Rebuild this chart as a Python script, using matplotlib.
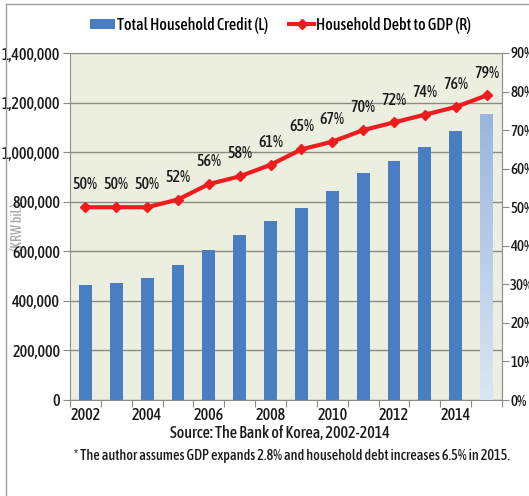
import matplotlib.pyplot as plt
import numpy as np
from matplotlib.colors import LinearSegmentedColormap
from matplotlib.lines import Line2D
from matplotlib.patches import Patch
from matplotlib.ticker import FuncFormatter, MultipleLocator

plt.rcParams['font.family'] = ['Asap Condensed', 'DejaVu Sans']
plt.rcParams['font.weight'] = 500

years = list(range(2002, 2016))
# household credit, KRW bil. (2015 is a projection)
credit = [464700, 472100, 494200, 542900, 607000, 665300, 723500,
          776000, 843200, 916200, 963800, 1021400, 1085300, 1155800]
# household debt to GDP, %
debt_gdp = [50, 50, 50, 52, 56, 58, 61, 65, 67, 70, 72, 74, 76, 79]
tick_years = [2002, 2004, 2006, 2008, 2010, 2012, 2014]

bar_color = '#4a7ec2'
line_color = '#ee1c1c'
grid_color = '#8c8c84'
text_color = '#1a1a1a'
fs = 11.5

fig = plt.figure(figsize=(5.29, 4.96), dpi=100)
ax = fig.add_axes([70/529, 1 - 400/496, 432/529, 347/496])
ax.set_facecolor('#eceedf')

x = np.arange(len(years))
bars = ax.bar(x[:-1], credit[:-1], width=0.42, color=bar_color, zorder=3)
proj = ax.bar(x[-1:], credit[-1:], width=0.42, color='#b9cdea', zorder=3)

# vertical gradient on the projected bar
grad = np.linspace(0, 1, 256).reshape(-1, 1)
cmap = LinearSegmentedColormap.from_list('proj', ['#dce6f3', '#98b5e0'])
p = proj[0]
img = ax.imshow(grad, cmap=cmap, origin='lower', aspect='auto', zorder=3.5,
                extent=[p.get_x(), p.get_x() + p.get_width(), 0, p.get_height()])
img.set_clip_path(p)

ax.set_xlim(-0.5, len(years) - 0.5)
ax.set_ylim(0, 1400000)
ax.yaxis.set_major_locator(MultipleLocator(200000))
ax.yaxis.set_major_formatter(FuncFormatter(lambda v, _: f'{int(v):,}'))
ax.grid(axis='y', color=grid_color, lw=1, zorder=1)
ax.set_axisbelow(True)

ax.set_xticks(np.arange(len(years) + 1) - 0.5)
ax.set_xticklabels([])
ax.set_xticks([years.index(y) for y in tick_years], minor=True)
ax.set_xticklabels([str(y) for y in tick_years], minor=True)
ax.tick_params(axis='x', which='major', length=5, color=grid_color)
ax.tick_params(axis='x', which='minor', length=0, pad=5, labelsize=fs, labelcolor=text_color)
ax.tick_params(axis='y', length=5, color=grid_color, labelsize=fs, labelcolor=text_color, pad=2)

for s in ['left', 'bottom', 'right']:
    ax.spines[s].set_color(grid_color)
ax.spines['top'].set_visible(False)

ax.text(-0.122, 0.5, '(KRW bil.)', transform=ax.transAxes, rotation=90,
        ha='center', va='center', fontsize=10, color='#a8a8a8', zorder=0)

ax2 = ax.twinx()
ax2.set_ylim(0, 90)
ax2.yaxis.set_major_locator(MultipleLocator(10))
ax2.yaxis.set_major_formatter(FuncFormatter(lambda v, _: f'{int(v)}%'))
ax2.tick_params(axis='y', length=5, color=grid_color, labelsize=10.8, labelcolor=text_color, pad=1)
for s in ['left', 'bottom', 'right', 'top']:
    ax2.spines[s].set_visible(False)
ax2.plot(x, debt_gdp, color=line_color, lw=3, marker='D', ms=5,
         mec=line_color, mfc=line_color, zorder=5)
for xi, v in zip(x, debt_gdp):
    ax2.annotate(f'{v}%', (xi, v), xytext=(0, 10), textcoords='offset points',
                 ha='center', va='bottom', fontsize=fs, color=text_color)

handles = [Patch(facecolor=bar_color, edgecolor='none'),
           Line2D([0], [0], color=line_color, lw=3, marker='D', ms=5)]
fig.legend(handles, ['Total Household Credit (L)', 'Household Debt to GDP (R)'],
           loc='center', bbox_to_anchor=(0.53, 1 - 25/496), ncol=2, frameon=False,
           fontsize=fs, handlelength=1.6, handleheight=0.6, handletextpad=0.1,
           columnspacing=1.3)

fig.text(0.53, 1 - 434/496, 'Source: The Bank of Korea, 2002-2014',
         ha='center', va='center', fontsize=fs, color=text_color)
fig.text(0.552, 1 - 456/496, '* The author assumes GDP expands 2.8% and household debt increases 6.5% in 2015.',
         ha='center', va='center', fontsize=10.3, color=text_color)

# outer frame lines
fig.add_artist(Line2D([6/529, 6/529], [0, 1 - 4/496], color='#a0a0a0', lw=1))
fig.add_artist(Line2D([6/529, 1], [1 - 4/496, 1 - 4/496], color='#a0a0a0', lw=1))

fig.savefig('out.png', dpi=100)
